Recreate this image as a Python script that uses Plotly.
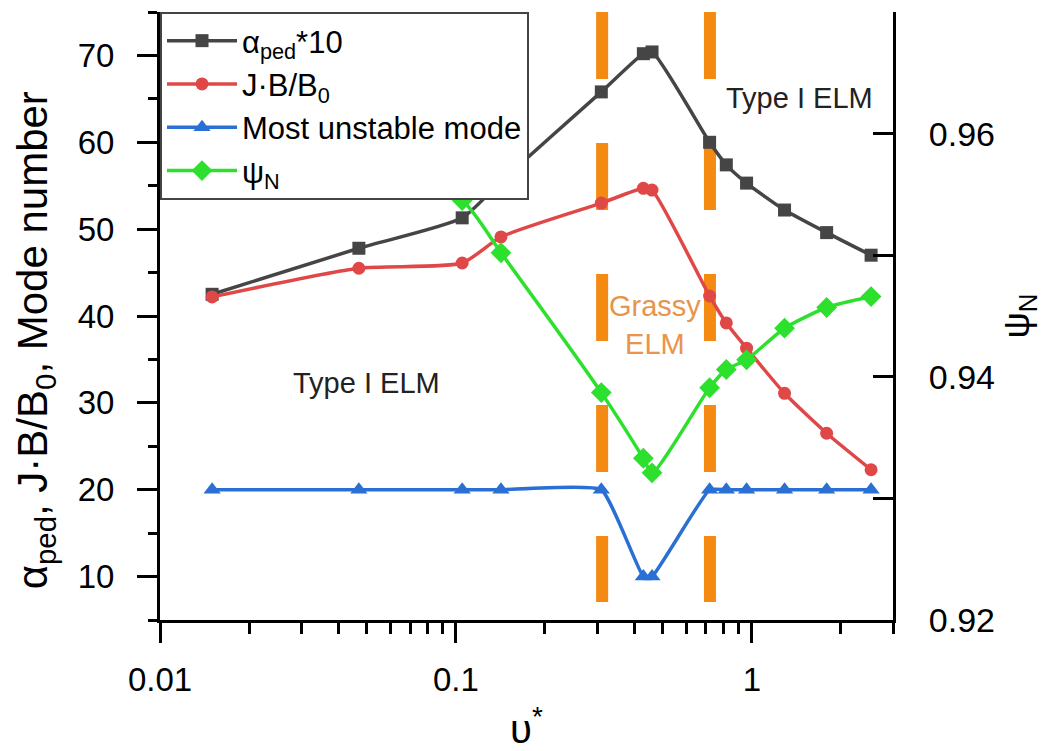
import math
import plotly.graph_objects as go

# ---- data ----
nu_star = [0.015, 0.047, 0.105, 0.142, 0.31, 0.43, 0.46, 0.72, 0.82, 0.96, 1.29, 1.79, 2.53]
alpha_ped10 = [42.5, 47.8, 51.3, 55.5, 65.8, 70.2, 70.4, 60.0, 57.4, 55.3, 52.2, 49.6, 47.0]
jb_b0 = [42.2, 45.5, 46.1, 49.1, 53.0, 54.7, 54.5, 42.3, 39.2, 36.3, 31.1, 26.5, 22.3]
mode_number = [20, 20, 20, 20, 20, 10, 10, 20, 20, 20, 20, 20, 20]
psi_n = [0.961, 0.958, 0.9545, 0.9502, 0.9387, 0.9333, 0.9321, 0.9391, 0.9406, 0.9414, 0.9440, 0.9457, 0.9466]

regime_bounds = [0.312, 0.722]
bound_y = [75, 7.07]

x_range = [0.01, 3]
y_left_range = [5, 75]
y_right_range = [0.92, 0.97]

x_tick_vals = [0.01, 0.1, 1]
x_tick_text = ["0.01", "0.1", "1"]
x_minor_vals = [0.02, 0.03, 0.04, 0.05, 0.06, 0.07, 0.08, 0.09,
                0.2, 0.3, 0.4, 0.5, 0.6, 0.7, 0.8, 0.9, 2, 3]

FONT = "Liberation Sans, Arial, sans-serif"
BLACK = "#454545"
RED = "#e04848"
BLUE = "#2a6fd4"
GREEN = "#2ee02e"
ORANGE = "#f58a12"

fig = go.Figure()

# orange dashed regime boundaries (drawn first, under the data)
for xb in regime_bounds:
    fig.add_trace(go.Scatter(
        x=[xb, xb], y=bound_y, mode="lines",
        line=dict(color=ORANGE, width=12, dash="67px,64px"),
        showlegend=False, hoverinfo="skip"))

fig.add_trace(go.Scatter(
    x=nu_star, y=alpha_ped10, name="α<sub>ped</sub>*10", mode="lines+markers",
    line=dict(color=BLACK, width=3.5, shape="spline", smoothing=0.6),
    marker=dict(symbol="square", size=13, color=BLACK)))
fig.add_trace(go.Scatter(
    x=nu_star, y=jb_b0, name="J·B/B<sub>0</sub>", mode="lines+markers",
    line=dict(color=RED, width=3.5, shape="spline", smoothing=0.6),
    marker=dict(symbol="circle", size=13, color=RED)))
fig.add_trace(go.Scatter(
    x=nu_star, y=mode_number, name="Most unstable mode", mode="lines+markers",
    line=dict(color=BLUE, width=3.5, shape="spline", smoothing=0.4),
    marker=dict(symbol="triangle-up", size=15, color=BLUE)))
fig.add_trace(go.Scatter(
    x=nu_star, y=psi_n, name="ψ<sub>N</sub>", mode="lines+markers", yaxis="y2",
    line=dict(color=GREEN, width=3.5, shape="spline", smoothing=0.6),
    marker=dict(symbol="diamond", size=16, color=GREEN)))

annots = [
    dict(x=math.log10(0.0497), y=32.3, text="Type I ELM", color="#222222"),
    dict(x=math.log10(1.45), y=65.1, text="Type I ELM", color="#222222"),
    dict(x=math.log10(0.472), y=39.0, text="Grassy<br>ELM", color="#e8944a"),
]
for a in annots:
    fig.add_annotation(x=a["x"], y=a["y"], xref="x", yref="y", text=a["text"],
                       showarrow=False, font=dict(family=FONT, size=29, color=a["color"]))

# left axis title placed as a rotated annotation
fig.add_annotation(x=-0.1705, y=0.46, xref="paper", yref="paper",
                   text="α<sub>ped</sub>, J·B/B<sub>0</sub>, Mode number",
                   textangle=-90, showarrow=False, xanchor="center", yanchor="middle",
                   font=dict(family=FONT, size=42, color="black"))

axis_common = dict(showline=True, linecolor="black", linewidth=3, showgrid=False,
                   zeroline=False, tickcolor="black", tickwidth=3, automargin=False,
                   tickfont=dict(family=FONT, size=33, color="black"))

fig.update_layout(
    width=1038, height=743,
    margin=dict(l=152, r=153, t=4, b=131),
    paper_bgcolor="white", plot_bgcolor="white",
    font=dict(family=FONT, color="black"),
    xaxis=dict(type="log", range=[math.log10(x_range[0]), math.log10(x_range[1])],
               tickvals=x_tick_vals, ticktext=x_tick_text,
               ticks="outside", ticklen=20, ticklabelstandoff=8,
               minor=dict(ticks="outside", ticklen=11, tickwidth=3, tickcolor="black",
                          tickvals=x_minor_vals),
               title=dict(text="υ<sup>*</sup>", font=dict(family=FONT, size=40), standoff=24),
               **axis_common),
    yaxis=dict(range=y_left_range, tick0=0, dtick=10, ticks="outside", ticklen=20,
               ticklabelstandoff=16,
               minor=dict(ticks="outside", ticklen=9, tickwidth=3, tickcolor="black", dtick=5, tick0=0),
               **axis_common),
    yaxis2=dict(range=y_right_range, overlaying="y", side="right", anchor="x",
                tick0=0.92, dtick=0.02, tickformat=".2f", ticks="inside", ticklen=20,
                ticklabelstandoff=26,
                minor=dict(ticks="inside", ticklen=20, tickwidth=3, tickcolor="black", dtick=0.01, tick0=0.92),
                title=dict(text="ψ<sub>N</sub>", font=dict(family=FONT, size=37), standoff=10),
                **dict(axis_common, tickfont=dict(family=FONT, size=34, color="black"))),
    legend=dict(x=0, y=1, xanchor="left", yanchor="top", bgcolor="white",
                bordercolor="#444444", borderwidth=2,
                font=dict(family=FONT, size=31, color="black"),
                itemwidth=70, tracegroupgap=0),
    showlegend=True,
)

fig.write_html("out.html")
